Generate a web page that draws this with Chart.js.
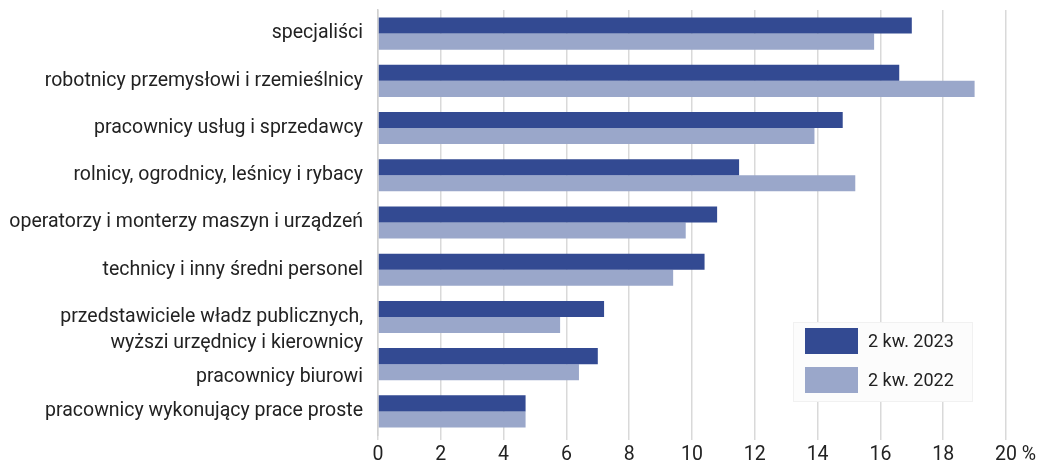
<!DOCTYPE html>
<html lang="pl">
<head>
<meta charset="utf-8">
<title>Pracujący według grup zawodów</title>
<script src="https://cdn.jsdelivr.net/npm/chart.js@4/dist/chart.umd.min.js"></script>
<style>
    html, body { margin: 0; padding: 0; background: #ffffff; }
    #wrap { position: relative; width: 1046px; height: 465px; }
</style>
</head>
<body>
<div id="wrap"><canvas id="wykres"></canvas></div>
<script>
// ── Dane (% pracujących) ──────────────────────────────────────
const kategorie = [
    'specjaliści',
    'robotnicy przemysłowi i rzemieślnicy',
    'pracownicy usług i sprzedawcy',
    'rolnicy, ogrodnicy, leśnicy i rybacy',
    'operatorzy i monterzy maszyn i urządzeń',
    'technicy i inny średni personel',
    ['', 'przedstawiciele władz publicznych,', 'wyższi urzędnicy i kierownicy'],
    ['', 'pracownicy biurowi'],
    'pracownicy wykonujący prace proste'
];
const etykietySerii = ['2 kw. 2023', '2 kw. 2022'];
const wartosci2023 = [17.0, 16.6, 14.8, 11.5, 10.8, 10.4, 7.2, 7.0, 4.7];
const wartosci2022 = [15.8, 19.0, 13.9, 15.2, 9.8, 9.4, 5.8, 6.4, 4.7];
const osX = { min: 0, max: 20, krok: 2, jednostka: '%' };

const KOLORY = ['#334a92', '#9aa7ca'];
const FONT = 'Roboto, "Noto Sans", sans-serif';
const TEKST = '#222222';
const ROZMIAR = 19.5;

// legenda rysowana wewnątrz obszaru wykresu
const legendaWewnatrz = {
    id: 'legendaWewnatrz',
    afterDraw(chart) {
        const { ctx } = chart;
        const x0 = 793, y0 = 322, w = 180, h = 80;
        ctx.save();
        ctx.fillStyle = '#fcfcfc';
        ctx.fillRect(x0, y0, w, h);
        ctx.strokeStyle = '#f1f1f1';
        ctx.strokeRect(x0 + 0.5, y0 + 0.5, w - 1, h - 1);
        ctx.font = '18px ' + FONT;
        ctx.textBaseline = 'middle';
        chart.data.datasets.forEach((ds, i) => {
            const y = y0 + 6 + i * 39;
            ctx.fillStyle = ds.backgroundColor;
            ctx.fillRect(x0 + 12, y, 53, 26);
            ctx.fillStyle = TEKST;
            ctx.fillText(ds.label, x0 + 75, y + 14);
        });
        ctx.restore();
    }
};

// znak % za ostatnią etykietą osi X (ta sama linia co etykiety)
const jednostkaOsi = {
    id: 'jednostkaOsi',
    afterDraw(chart) {
        const sx = chart.scales.x;
        const { ctx } = chart;
        ctx.save();
        ctx.font = ROZMIAR + 'px ' + FONT;
        const x = sx.getPixelForValue(osX.max) + ctx.measureText(String(osX.max)).width / 2;
        ctx.fillStyle = TEKST;
        ctx.textBaseline = 'middle';
        ctx.fillText(' ' + osX.jednostka, x, sx.top + 5 + 3 + ROZMIAR * 1.2 / 2);
        ctx.restore();
    }
};

new Chart(document.getElementById('wykres'), {
    type: 'bar',
    data: {
        labels: kategorie,
        datasets: [
            { label: etykietySerii[0], data: wartosci2023, backgroundColor: KOLORY[0] },
            { label: etykietySerii[1], data: wartosci2022, backgroundColor: KOLORY[1] }
        ]
    },
    options: {
        indexAxis: 'y',
        responsive: true,
        maintainAspectRatio: false,
        animation: false,
        categoryPercentage: 0.68,
        barPercentage: 1.0,
        layout: { padding: { top: 10, right: 40, left: 0, bottom: 0 } },
        plugins: {
            legend: { display: false },
            tooltip: { enabled: false }
        },
        scales: {
            x: {
                min: osX.min, max: osX.max,
                ticks: { stepSize: osX.krok, color: TEKST, font: { family: FONT, size: ROZMIAR }, padding: 3 },
                grid: { color: '#d9d9d9', lineWidth: 1.5, tickLength: 5, tickColor: '#d9d9d9' },
                border: { display: false },
                afterFit(s) { s.height = 30; }
            },
            y: {
                ticks: { autoSkip: false, color: TEKST, font: { family: FONT, size: ROZMIAR, lineHeight: 1.33 }, padding: 15 },
                grid: { display: false, drawTicks: false },
                border: { display: true, color: '#d0d0d0', width: 1.5 },
                afterFit(s) { s.width = 378; s.paddingTop = 0; s.paddingBottom = 0; }
            }
        }
    },
    plugins: [legendaWewnatrz, jednostkaOsi]
});
</script>
</body>
</html>
